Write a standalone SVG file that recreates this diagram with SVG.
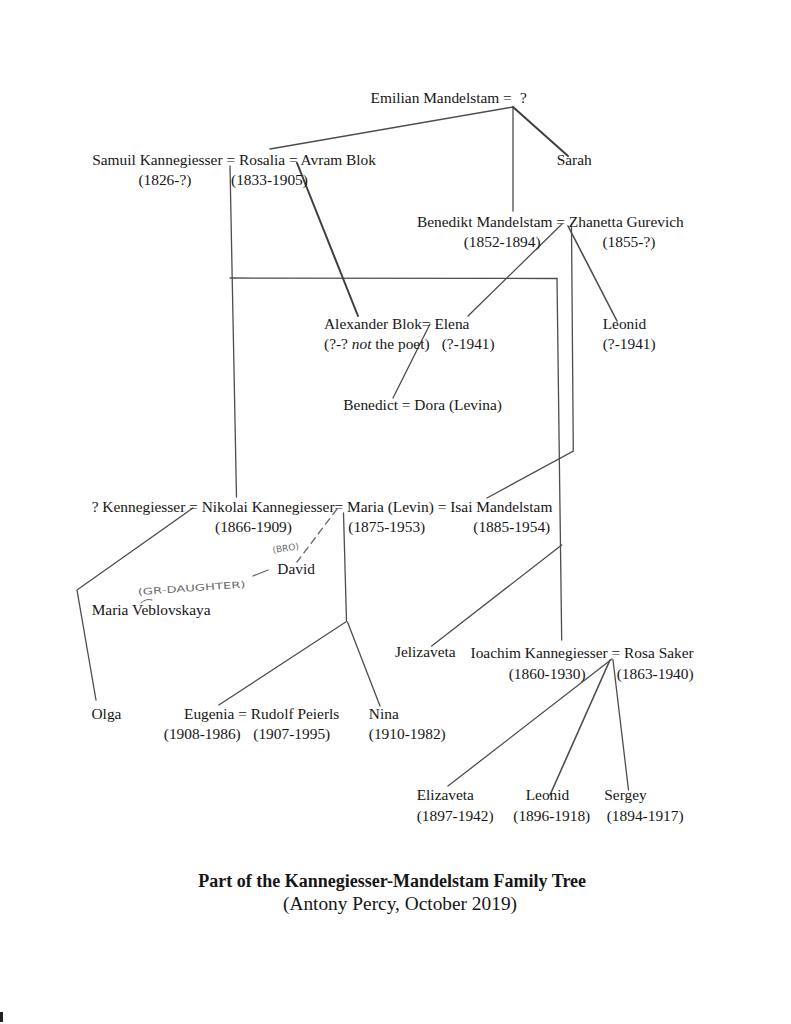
<svg xmlns="http://www.w3.org/2000/svg" width="791" height="1024" viewBox="0 0 791 1024">
<style>
  text { font-family: "Liberation Serif", "Times New Roman", serif; font-size: 15.4px; fill: #161616; }
  .title { font-weight: bold; font-size: 18px; }
  .sub { font-size: 18.6px; }
  .hand { font-family: "DejaVu Sans", sans-serif; font-size: 9px; fill: #6a6a6a; }
  .ln { stroke: #4d4d4d; stroke-width: 1.3; fill: none; stroke-linecap: round; }
  .thk { stroke-width: 2; stroke: #3f3f3f; }
  .dash { stroke-dasharray: 7 5; stroke: #666; }
</style>
<rect width="791" height="1024" fill="#ffffff"/>

<g id="connectors">
  <line class="ln" x1="513" y1="107" x2="270" y2="149"/>
  <line class="ln" x1="513" y1="108" x2="513" y2="211"/>
  <line class="ln thk" x1="513" y1="107" x2="568" y2="156"/>
  <line class="ln" x1="230" y1="166" x2="236.5" y2="497"/>
  <line class="ln" x1="230" y1="278" x2="557" y2="278.5"/>
  <line class="ln" x1="557" y1="278.5" x2="561.7" y2="640"/>
  <line class="ln thk" x1="297" y1="163" x2="358" y2="316"/>
  <line class="ln" x1="562" y1="224" x2="468" y2="316"/>
  <line class="ln" x1="568" y1="226" x2="617" y2="321" style="stroke-width:1.6"/>
  <polyline class="ln" points="571.5,227 573.3,451 487,498"/>
  <line class="ln" x1="430" y1="324" x2="393" y2="398"/>
  <polyline class="ln" points="193,508 77,590 96,700"/>
  <polyline class="ln" points="343.5,513 346.5,621.5 218.8,705"/>
  <line class="ln" x1="347.5" y1="622" x2="380" y2="706"/>
  <line class="ln dash" x1="337" y1="509" x2="297" y2="562"/>
  <line class="ln" x1="268" y1="570" x2="253" y2="576" style="stroke:#666"/>
  <path class="ln" d="M141,603 Q146,598 152,600" style="stroke:#666;stroke-width:1"/>
  <line class="ln" x1="561.7" y1="545" x2="431.7" y2="646"/>
  <line class="ln" x1="612" y1="659" x2="448" y2="786"/>
  <line class="ln" x1="610" y1="660" x2="550" y2="795" style="stroke-width:1.6"/>
  <line class="ln" x1="613" y1="660" x2="628.5" y2="790"/>
</g>

<g id="emilian">
  <text x="370.6" y="103">Emilian Mandelstam =</text>
  <text x="520" y="103">?</text>
</g>

<g id="samuil-rosalia-avram">
  <text x="92.2" y="165">Samuil Kannegiesser = Rosalia = Avram Blok</text>
  <text x="138.4" y="185">(1826-?)</text>
  <text x="231" y="185">(1833-1905)</text>
</g>

<g id="sarah">
  <text x="556.7" y="165">Sarah</text>
</g>

<g id="benedikt-zhanetta">
  <text x="417" y="227">Benedikt Mandelstam = Zhanetta Gurevich</text>
  <text x="463.7" y="247">(1852-1894)</text>
  <text x="602.4" y="247">(1855-?)</text>
</g>

<g id="alexander-elena">
  <text x="324" y="328.5">Alexander Blok= Elena</text>
  <text x="324" y="348.5">(?-? <tspan font-style="italic">not</tspan> the poet)</text>
  <text x="441.7" y="348.5">(?-1941)</text>
</g>

<g id="leonid-1">
  <text x="602.7" y="328.5">Leonid</text>
  <text x="602.7" y="348.5">(?-1941)</text>
</g>

<g id="benedict-dora">
  <text x="343.3" y="410">Benedict = Dora (Levina)</text>
</g>

<g id="nikolai-maria-isai">
  <text x="91.7" y="511.5">? Kennegiesser = Nikolai Kannegiesser= Maria (Levin) = Isai Mandelstam</text>
  <text x="215" y="531.5">(1866-1909)</text>
  <text x="348.3" y="531.5">(1875-1953)</text>
  <text x="473.3" y="531.5">(1885-1954)</text>
</g>

<g id="david">
  <text x="277.3" y="573.5">David</text>
  <text class="hand" x="273" y="553" transform="rotate(-8 273 553)">(BRO)</text>
</g>

<g id="maria-veblovskaya">
  <text x="91.7" y="615">Maria Veblovskaya</text>
  <text class="hand" x="138" y="595" font-size="10" textLength="108" lengthAdjust="spacingAndGlyphs" transform="rotate(-4 138 595)">(GR-DAUGHTER)</text>
</g>

<g id="jelizaveta">
  <text x="395" y="657">Jelizaveta</text>
</g>

<g id="ioachim-rosa">
  <text x="470.5" y="657.5">Ioachim Kannegiesser = Rosa Saker</text>
  <text x="508.7" y="679">(1860-1930)</text>
  <text x="616.7" y="679">(1863-1940)</text>
</g>

<g id="olga">
  <text x="91.5" y="718.5">Olga</text>
</g>

<g id="eugenia-rudolf">
  <text x="184" y="718.5">Eugenia = Rudolf Peierls</text>
  <text x="163.8" y="739">(1908-1986)</text>
  <text x="253.3" y="739">(1907-1995)</text>
</g>

<g id="nina">
  <text x="368.8" y="718.5">Nina</text>
  <text x="368.8" y="739">(1910-1982)</text>
</g>

<g id="elizaveta">
  <text x="416.7" y="800">Elizaveta</text>
  <text x="416.7" y="820.5">(1897-1942)</text>
</g>

<g id="leonid-2">
  <text x="525.7" y="800">Leonid</text>
  <text x="513.3" y="820.5">(1896-1918)</text>
</g>

<g id="sergey">
  <text x="604.3" y="800">Sergey</text>
  <text x="606.7" y="820.5">(1894-1917)</text>
</g>

<g id="caption">
  <text class="title" x="198.3" y="887">Part of the Kannegiesser-Mandelstam Family Tree</text>
  <text class="sub" x="283" y="909.5" textLength="234" lengthAdjust="spacingAndGlyphs">(Antony Percy, October 2019)</text>
</g>

<rect x="0" y="1012" width="3" height="10" fill="#222"/>
</svg>
